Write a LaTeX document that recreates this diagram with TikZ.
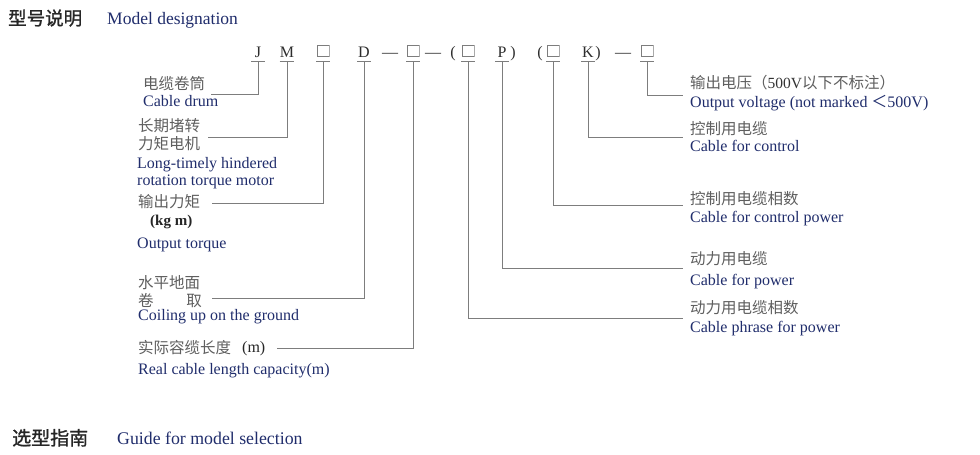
\documentclass[tikz,border=0pt]{standalone}
\usepackage{fontspec}
\setmainfont{Liberation Serif}
\newfontfamily\cjk{Noto Sans CJK SC}
\newfontfamily\cjkh{Noto Sans CJK SC}[FakeBold=1.2]
\definecolor{navy}{RGB}{32,45,108}
\definecolor{cngray}{RGB}{95,95,95}
\definecolor{lngray}{RGB}{125,125,125}
\definecolor{codec}{RGB}{45,45,45}
\begin{document}
\begin{tikzpicture}[x=1pt,y=-1pt,
  code/.style={inner sep=0pt, text height=12pt, text depth=4pt, minimum width=13pt,
    anchor=base, font=\fontsize{16}{16}\selectfont, text=codec},
  sqbox/.style={code, path picture={\draw[lngray, line width=0.8pt]
    ([shift={(0.6pt,4.4pt)}]path picture bounding box.south west) rectangle
    ([shift={(-0.6pt,-0.6pt)}]path picture bounding box.north east);}},
  sym/.style={inner sep=0pt, anchor=base, font=\fontsize{16}{16}\selectfont, text=codec},
  en/.style={inner sep=0pt, anchor=base west, font=\fontsize{16}{16}\selectfont, text=navy},
  cn/.style={inner sep=0pt, anchor=base west, font=\cjk\fontsize{15.5}{16}\selectfont, text=cngray},
  ln/.style={draw=lngray, line width=1pt},
  ul/.style={draw=lngray, line width=1pt}
]
\useasboundingbox (0,0) rectangle (980,455);
\fill[white] (0,0) rectangle (980,455);

% headers
\node[inner sep=0pt, anchor=base west, font=\cjkh\fontsize{18.5}{19}\selectfont, text=black!85] (h1) at (8,25) {型号说明};
\node[inner sep=0pt, anchor=base west, font=\fontsize{17.5}{18}\selectfont, text=navy] (h1e) at (107,24) {Model designation};
\node[inner sep=0pt, anchor=base west, font=\cjkh\fontsize{19}{19}\selectfont, text=black!85] (h2) at (12,445) {选型指南};
\node[inner sep=0pt, anchor=base west, font=\fontsize{17.8}{18}\selectfont, text=navy] (h2e) at (117,444) {Guide for model selection};

% code string
\node[code] (cJ) at (258,57) {J};
\node[code] (cM) at (287,57) {M};
\node[sqbox] (cS1) at (323,57) {};
\node[code] (cD) at (364,57) {D};
\node[sym] (d1) at (390,57) {—};
\node[sqbox] (cS2) at (413,57) {};
\node[sym] (d2) at (433,57) {—};
\node[sym] (p1) at (453,57) {(};
\node[sqbox] (cS3) at (468,57) {};
\node[code] (cP) at (502,57) {P};
\node[sym] (p2) at (513,57) {)};
\node[sym] (p3) at (540,57) {(};
\node[sqbox] (cS4) at (553,57) {};
\node[code] (cK) at (588,57) {K};
\node[sym] (p4) at (598,57) {)};
\node[sym] (d3) at (623,57) {—};
\node[sqbox] (cS5) at (647,57) {};

\foreach \n in {cJ,cM,cS1,cD,cS2,cS3,cP,cS4,cK,cS5}
  \draw[ul] (\n.south west) -- (\n.south east);

% left labels
\node[cn] (lJ1) at (143,89) {电缆卷筒};
\node[en] (lJ2) at (143,106) {Cable drum};
\node[cn] (lM1) at (138,131) {长期堵转};
\node[cn] (lM2) at (138,149) {力矩电机};
\node[en] (lM3) at (137,168) {Long-timely hindered};
\node[en] (lM4) at (137,185) {rotation torque motor};
\node[cn] (lS1a) at (138,207) {输出力矩};
\node[inner sep=0pt, anchor=base west, font=\bfseries\fontsize{15}{16}\selectfont, text=black!85] (lS1b) at (150,225) {(kg m)};
\node[en] (lS1c) at (137,248) {Output torque};
\node[cn] (lD1) at (138,288) {水平地面};
\node[cn] (lD2) at (138,306) {卷\hspace{2.1em}取};
\node[en] (lD3) at (138,320) {Coiling up on the ground};
\node[cn] (lS2a) at (138,353) {实际容缆长度};
\node[inner sep=0pt, anchor=base west, font=\fontsize{16}{16}\selectfont, text=black!85] (lS2b) at (242,352) {(m)};
\node[en] (lS2c) at (138,374) {Real cable length capacity(m)};

% right labels
\node[cn] (rS5a) at (690,88) {输出电压（{\rmfamily\color{black!80}500V}以下不标注）};
\node[en] (rS5b) at (690,107) {Output voltage (not marked {\cjk ＜}500V)};
\node[cn] (rKa) at (690,134) {控制用电缆};
\node[en] (rKb) at (690,151) {Cable for control};
\node[cn] (rS4a) at (690,204) {控制用电缆相数};
\node[en] (rS4b) at (690,222) {Cable for control power};
\node[cn] (rPa) at (690,264) {动力用电缆};
\node[en] (rPb) at (690,285) {Cable for power};
\node[cn] (rS3a) at (690,313) {动力用电缆相数};
\node[en] (rS3b) at (690,332) {Cable phrase for power};

% connector ends
\coordinate (eJ) at (211,94);
\coordinate (eM) at (208,137);
\coordinate (eS1) at (212,203);
\coordinate (eD) at (212,298);
\coordinate (eS2) at (277,348);
\coordinate (eS3) at (683,318);
\coordinate (eP) at (683,268);
\coordinate (eS4) at (683,205);
\coordinate (eK) at (683,137);
\coordinate (eS5) at (683,95);

\foreach \n in {J,M,S1,D,S2,S3,P,S4,K,S5}
  \draw[ln] (c\n.south) |- (e\n);
\end{tikzpicture}
\end{document}
